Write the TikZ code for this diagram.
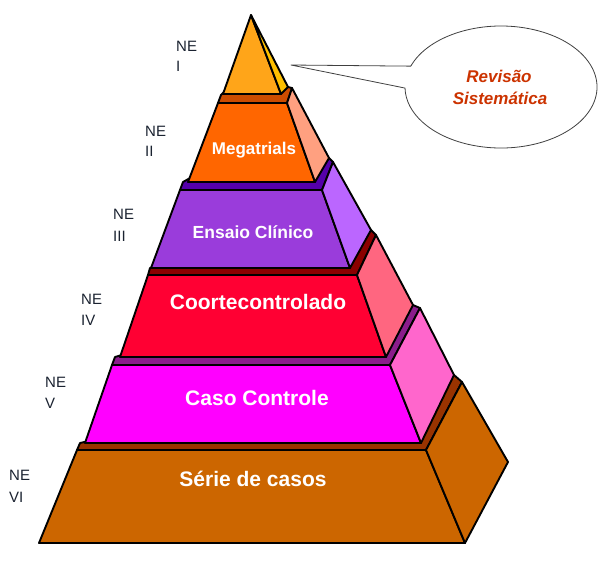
\documentclass[tikz,border=0pt]{standalone}
\usepackage{fontspec}
\setmainfont{Liberation Sans}
\usetikzlibrary{calc}
\definecolor{sixF}{HTML}{CC6600}
\definecolor{sixS}{HTML}{CC6600}
\definecolor{sixT}{HTML}{993300}
\definecolor{fiveF}{HTML}{FF00FF}
\definecolor{fiveS}{HTML}{FF66CC}
\definecolor{fiveT}{HTML}{8B1C8B}
\definecolor{fourF}{HTML}{FF0033}
\definecolor{fourS}{HTML}{FF6680}
\definecolor{fourT}{HTML}{8B0000}
\definecolor{threeF}{HTML}{9A3CDB}
\definecolor{threeS}{HTML}{BB66FF}
\definecolor{threeT}{HTML}{5500AA}
\definecolor{twoF}{HTML}{FF6600}
\definecolor{twoS}{HTML}{FFA080}
\definecolor{twoT}{HTML}{CC4C00}
\definecolor{oneF}{HTML}{FFA519}
\definecolor{oneS}{HTML}{FFC000}
\definecolor{calloutText}{HTML}{CC3300}
\definecolor{calloutLine}{HTML}{404040}
\definecolor{labelText}{HTML}{1A2230}
\begin{document}
\begin{tikzpicture}[x=1pt,y=-1pt,line join=round,
  face/.style={draw=black,line width=1.9pt},
  nelabel/.style={anchor=base west,font=\fontsize{15}{15}\selectfont,text=labelText,inner sep=0pt},
  layertext/.style={anchor=base,text=white,font=\bfseries\fontsize{21}{21}\selectfont,inner sep=0pt},
  callouttext/.style={anchor=base,text=calloutText,font=\bfseries\itshape\fontsize{17}{17}\selectfont,inner sep=0pt}]
\useasboundingbox (0,0) rectangle (599,566);

% ---- layer 6: Serie de casos
\filldraw[face,fill=sixT] (77,450) -- (426,450) -- (462,382) -- (454,375) -- (253,404) -- (80,443) -- cycle;
\filldraw[face,fill=sixF] (39,543) -- (465,543) -- (426,450) -- (77,450) -- cycle;
\filldraw[face,fill=sixS] (426,450) -- (462,382) -- (508,462) -- (465,543) -- cycle;

% ---- layer 5: Caso Controle
\filldraw[face,fill=fiveT] (112,365) -- (390,365) -- (420,308) -- (413,305) -- (253,316) -- (115,357) -- cycle;
\filldraw[face,fill=fiveF] (85,443) -- (421,443) -- (390,365) -- (112,365) -- cycle;
\filldraw[face,fill=fiveS] (390,365) -- (420,308) -- (454,375) -- (421,443) -- cycle;

% ---- layer 4: Coortecontrolado
\filldraw[face,fill=fourT] (148,275) -- (357,275) -- (376,235) -- (371,230) -- (252,229) -- (150,268) -- cycle;
\filldraw[face,fill=fourF] (120,357) -- (386,357) -- (357,275) -- (148,275) -- cycle;
\filldraw[face,fill=fourS] (357,275) -- (376,235) -- (413,305) -- (386,357) -- cycle;

% ---- layer 3: Ensaio Clinico
\filldraw[face,fill=threeT] (180,190) -- (322,190) -- (333,162) -- (329,158) -- (252,143) -- (183,182) -- cycle;
\filldraw[face,fill=threeF] (151,268) -- (350,268) -- (322,190) -- (180,190) -- cycle;
\filldraw[face,fill=threeS] (322,190) -- (333,162) -- (371,230) -- (350,268) -- cycle;

% ---- layer 2: Megatrials
\filldraw[face,fill=twoT] (218,103) -- (287,103) -- (292,88) -- (288,87) -- (251,65) -- (221,95) -- cycle;
\filldraw[face,fill=twoF] (188,182) -- (315,182) -- (287,103) -- (218,103) -- cycle;
\filldraw[face,fill=twoS] (287,103) -- (292,88) -- (329,158) -- (315,182) -- cycle;

% ---- layer 1: apex
\filldraw[face,fill=oneF] (251,15) -- (223,94) -- (281,94) -- cycle;
\filldraw[face,fill=oneS] (251,15) -- (288,87) -- (281,94) -- cycle;

% ---- callout
\coordinate (tip) at (291,65);
\coordinate (ec) at (501,87);
\filldraw[draw=calloutLine,fill=white,line width=0.8pt]
  (tip) -- ($(ec)+(200:96 and 61)$) arc[start angle=200,end angle=539,x radius=96,y radius=61] -- cycle;
\node[callouttext] (rev1) at (499,82) {Revisão};
\node[callouttext] (rev2) at (500,104) {Sistemática};

% ---- layer texts
\node[layertext,font=\bfseries\fontsize{17}{17}\selectfont] (t2) at (254,154) {Megatrials};
\node[layertext,font=\bfseries\fontsize{17.5}{17.5}\selectfont] (t3) at (253,238) {Ensaio Clínico};
\node[layertext] (t4) at (258,309) {Coortecontrolado};
\node[layertext] (t5) at (257,405) {Caso Controle};
\node[layertext] (t6) at (253,486) {Série de casos};

% ---- NE labels
\node[nelabel] (ne1a) at (176,51) {NE};
\node[nelabel] (ne1b) at (176,71) {I};
\node[nelabel] (ne2a) at (145,136) {NE};
\node[nelabel] (ne2b) at (145,156) {II};
\node[nelabel] (ne3a) at (113,219) {NE};
\node[nelabel] (ne3b) at (113,241) {III};
\node[nelabel] (ne4a) at (81,304) {NE};
\node[nelabel] (ne4b) at (81,325) {IV};
\node[nelabel] (ne5a) at (45,387) {NE};
\node[nelabel] (ne5b) at (45,408) {V};
\node[nelabel] (ne6a) at (9,480) {NE};
\node[nelabel] (ne6b) at (9,502) {VI};
\end{tikzpicture}
\end{document}
